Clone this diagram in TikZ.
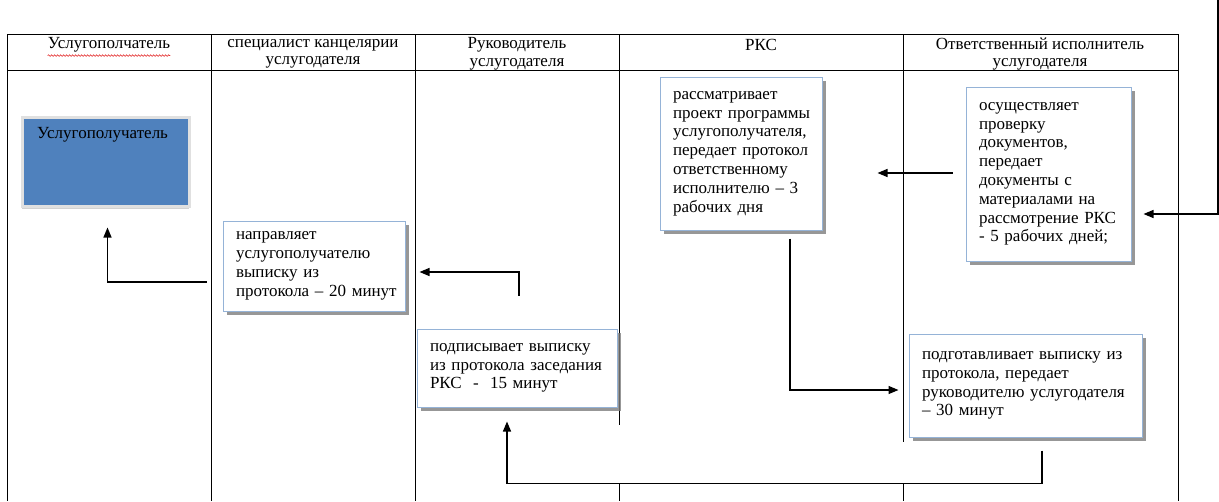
\documentclass[tikz,border=0pt]{standalone}
\usepackage{fontspec}
\setmainfont{Liberation Serif}
\usetikzlibrary{arrows.meta,calc,shadows,decorations.pathmorphing}
\definecolor{boxline}{RGB}{149,179,215}
\definecolor{recblue}{RGB}{79,129,189}
\definecolor{shadowgray}{RGB}{125,125,125}
\definecolor{squiggle}{RGB}{225,30,30}
\newcommand\nb[1]{\mbox{#1}}
\begin{document}
\begin{tikzpicture}[x=1pt,y=-1pt,
  grid/.style={line width=0.9pt, black},
  head/.style={font=\fontsize{17}{17.5}\selectfont, align=center, inner sep=0pt},
  stepbox/.style={draw=boxline, line width=1pt, fill=white, align=left,
    inner xsep=13pt, inner ysep=0pt, font=\fontsize{17}{18.8}\selectfont,
    drop shadow={shadow xshift=4pt, shadow yshift=-4pt, fill=shadowgray, opacity=0.8}},
  arr/.style={line width=1.3pt, -{Triangle[length=10pt,width=8pt]}}
]
\useasboundingbox (0,0) rectangle (1219,501);

% table grid
\draw[grid] (7,34) -- (1178,34);
\draw[grid] (7,70) -- (1178,70);
\draw[grid] (7,34) -- (7,501);
\draw[grid] (211,34) -- (211,501);
\draw[grid] (415,34) -- (415,501);
\draw[grid] (619,34) -- (619,425);
\draw[grid] (619,483) -- (619,501);
\draw[grid] (903,34) -- (903,442);
\draw[grid] (903,483) -- (903,501);
\draw[grid] (1178,34) -- (1178,501);

% headers
\node[head] (h1) at (109,45) {Услугополчатель};
\draw[squiggle, line width=0.6pt, decorate, decoration={snake, amplitude=0.8pt, segment length=3pt}]
  ($(h1.south west)+(0,3)$) -- ($(h1.south east)+(0,3)$);
\node[head] (h2) at (313,54) {специалист канцелярии\\услугодателя};
\node[head] (h3) at (517,54) {Руководитель\\услугодателя};
\node[head] (h4) at (761,45) {РКС};
\node[head] (h5) at (1040,54) {Ответственный исполнитель\\услугодателя};

% recipient box
\node[fill=recblue, draw=black!12, line width=3pt, minimum width=167pt, minimum height=89pt,
  drop shadow={shadow xshift=0pt, shadow yshift=-3pt, fill=black!35}] (rcv) at (105.5,161.5) {};
\node[anchor=west, font=\fontsize{17}{18.8}\selectfont, inner sep=0pt] (rcvtext) at (37,135) {Услугополучатель};

% process boxes
\node[stepbox, text width=156pt, minimum height=90pt] (b2) at (314,266)
  {\nb{направляет}\\\nb{услугополучателю}\\\nb{выписку из}\\\nb{протокола – 20 минут}};
\node[stepbox, text width=174pt, minimum height=78pt] (b3) at (517,368)
  {\nb{подписывает выписку}\\\nb{из протокола заседания}\\\nb{РКС \ - \ 15 минут}};
\node[stepbox, text width=136pt, minimum height=153pt] (b4) at (741,153.5)
  {\nb{рассматривает}\\\nb{проект программы}\\\nb{услугополучателя,}\\\nb{передает протокол}\\\nb{ответственному}\\\nb{исполнителю – 3}\\\nb{рабочих дня}};
\node[stepbox, text width=139pt, minimum height=174pt] (b5) at (1048.5,174)
  {\nb{осуществляет}\\\nb{проверку}\\\nb{документов,}\\\nb{передает}\\\nb{документы с}\\\nb{материалами на}\\\nb{рассмотрение РКС}\\\nb{- 5 рабочих дней;}};
\node[stepbox, text width=207pt, minimum height=103pt] (b6) at (1025.5,385.5)
  {\nb{подготавливает выписку из}\\\nb{протокола, передает}\\\nb{руководителю услугодателя}\\\nb{– 30 минут}};

% connectors
\coordinate (src) at (1218,0);
\draw[arr] (src) |- ($(b5.east)+(12,40)$);
\draw[arr] ($(b5.west)+(-13,-1)$) -- ($(b4.east)+(55,19.5)$);
\draw[arr] ($(b4.south)+(49,8)$) |- ($(b6.west)+(-10,4.5)$);
\draw[arr] ($(b6.south)+(16.5,13)$) -- ++(0,33) -| ($(b3.south)+(-10,14)$);
\draw[arr] ($(b3.north)+(2,-33)$) |- ($(b2.east)+(14,6)$);
\draw[arr] ($(b2.west)+(-16,16)$) -| ($(rcv.south)+(2,20)$);
\end{tikzpicture}
\end{document}
